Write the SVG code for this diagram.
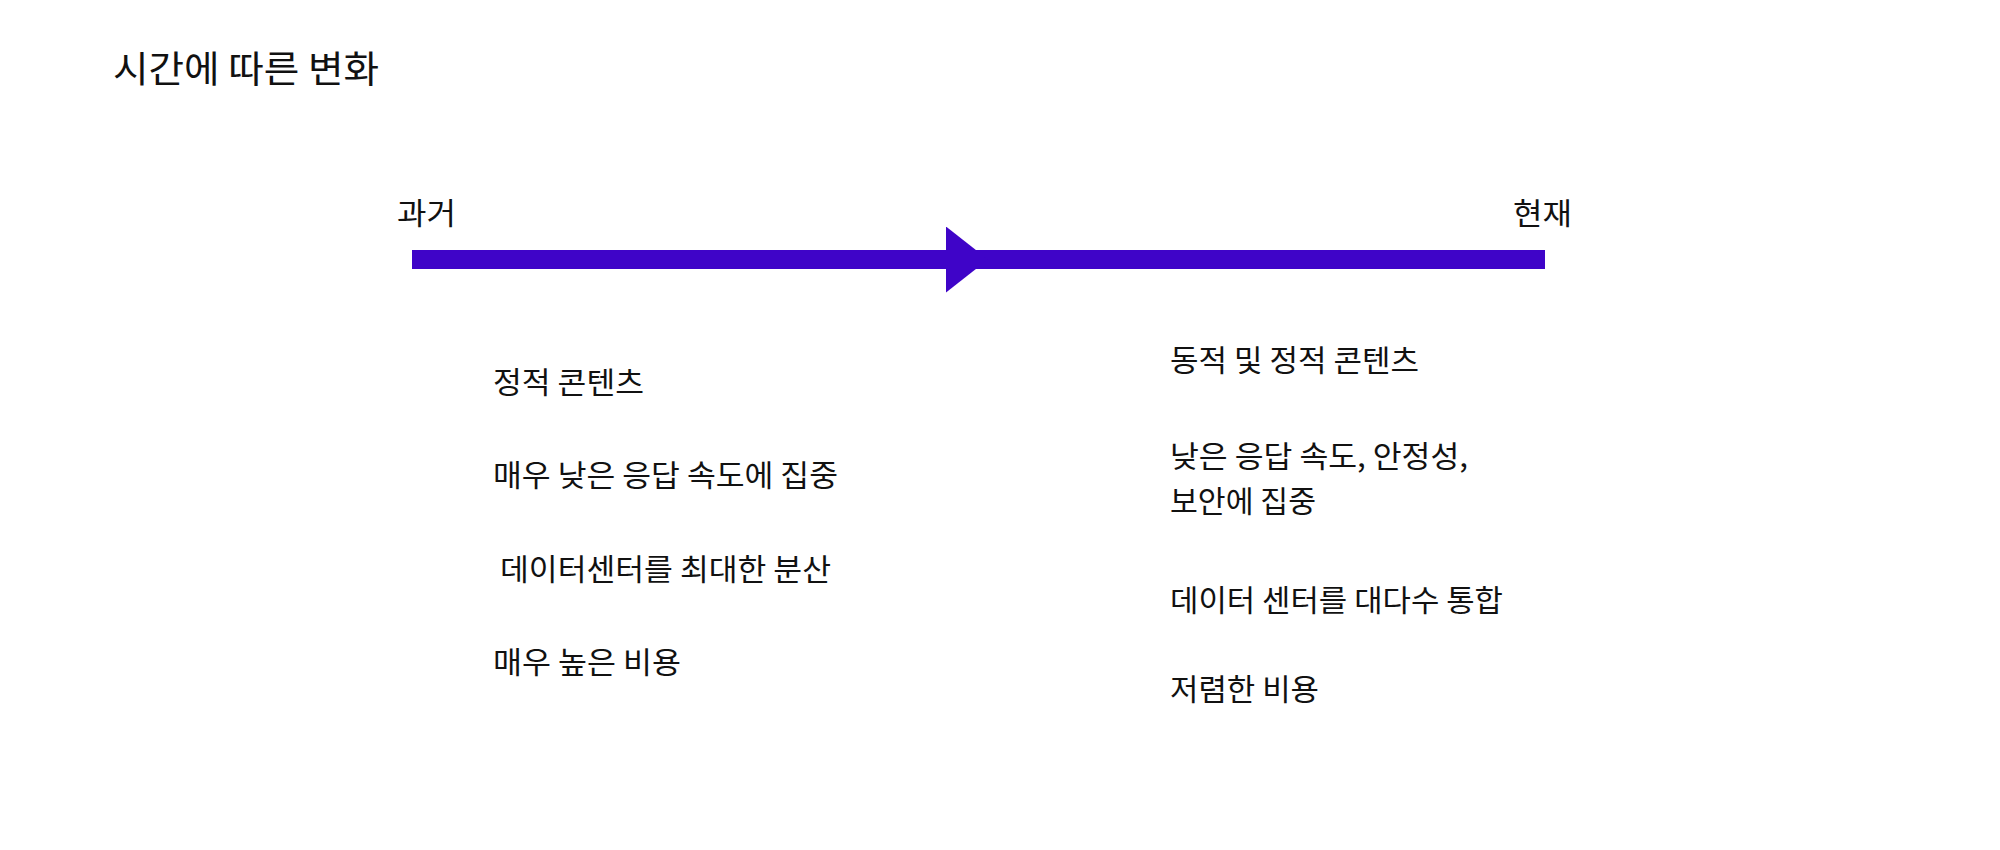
<svg xmlns="http://www.w3.org/2000/svg" width="2000" height="850" viewBox="0 0 2000 850">
<style>
text{font-family:"Noto Sans CJK KR","Noto Sans",sans-serif;fill:#111111;}
.title{font-size:37px;}
.lbl{font-size:30px;}
.item{font-size:30px;}
</style>
<defs>
<marker id="mid" markerUnits="userSpaceOnUse" markerWidth="42" markerHeight="66" viewBox="0 0 42 66" refX="0" refY="33" orient="auto">
<polygon points="0,0 42,33 0,66" fill="#3f04c8"/>
</marker>
</defs>
<rect width="2000" height="850" fill="#ffffff"/>
<g id="title"><text class="title" x="113" y="83" textLength="266" lengthAdjust="spacingAndGlyphs">시간에 따른 변화</text></g>
<g id="connectors">
<path d="M412,259.5 H946 H1545" stroke="#3f04c8" stroke-width="19" fill="none" marker-mid="url(#mid)"/>
</g>
<g id="past"><text class="lbl" x="397" y="224" textLength="59" lengthAdjust="spacingAndGlyphs">과거</text></g>
<g id="present"><text class="lbl" x="1513" y="224" textLength="59" lengthAdjust="spacingAndGlyphs">현재</text></g>
<g id="past-items">
<text class="item" x="493" y="393" textLength="151" lengthAdjust="spacingAndGlyphs">정적 콘텐츠</text>
<text class="item" x="493" y="486" textLength="345" lengthAdjust="spacingAndGlyphs">매우 낮은 응답 속도에 집중</text>
<text class="item" x="500" y="580" textLength="331" lengthAdjust="spacingAndGlyphs">데이터센터를 최대한 분산</text>
<text class="item" x="493" y="673" textLength="188" lengthAdjust="spacingAndGlyphs">매우 높은 비용</text>
</g>
<g id="present-items">
<text class="item" x="1170" y="371" textLength="249" lengthAdjust="spacingAndGlyphs">동적 및 정적 콘텐츠</text>
<text class="item" x="1170" y="467" textLength="298" lengthAdjust="spacingAndGlyphs">낮은 응답 속도, 안정성,</text>
<text class="item" x="1170" y="512" textLength="146" lengthAdjust="spacingAndGlyphs">보안에 집중</text>
<text class="item" x="1170" y="611" textLength="333" lengthAdjust="spacingAndGlyphs">데이터 센터를 대다수 통합</text>
<text class="item" x="1170" y="700" textLength="149" lengthAdjust="spacingAndGlyphs">저렴한 비용</text>
</g>
</svg>
